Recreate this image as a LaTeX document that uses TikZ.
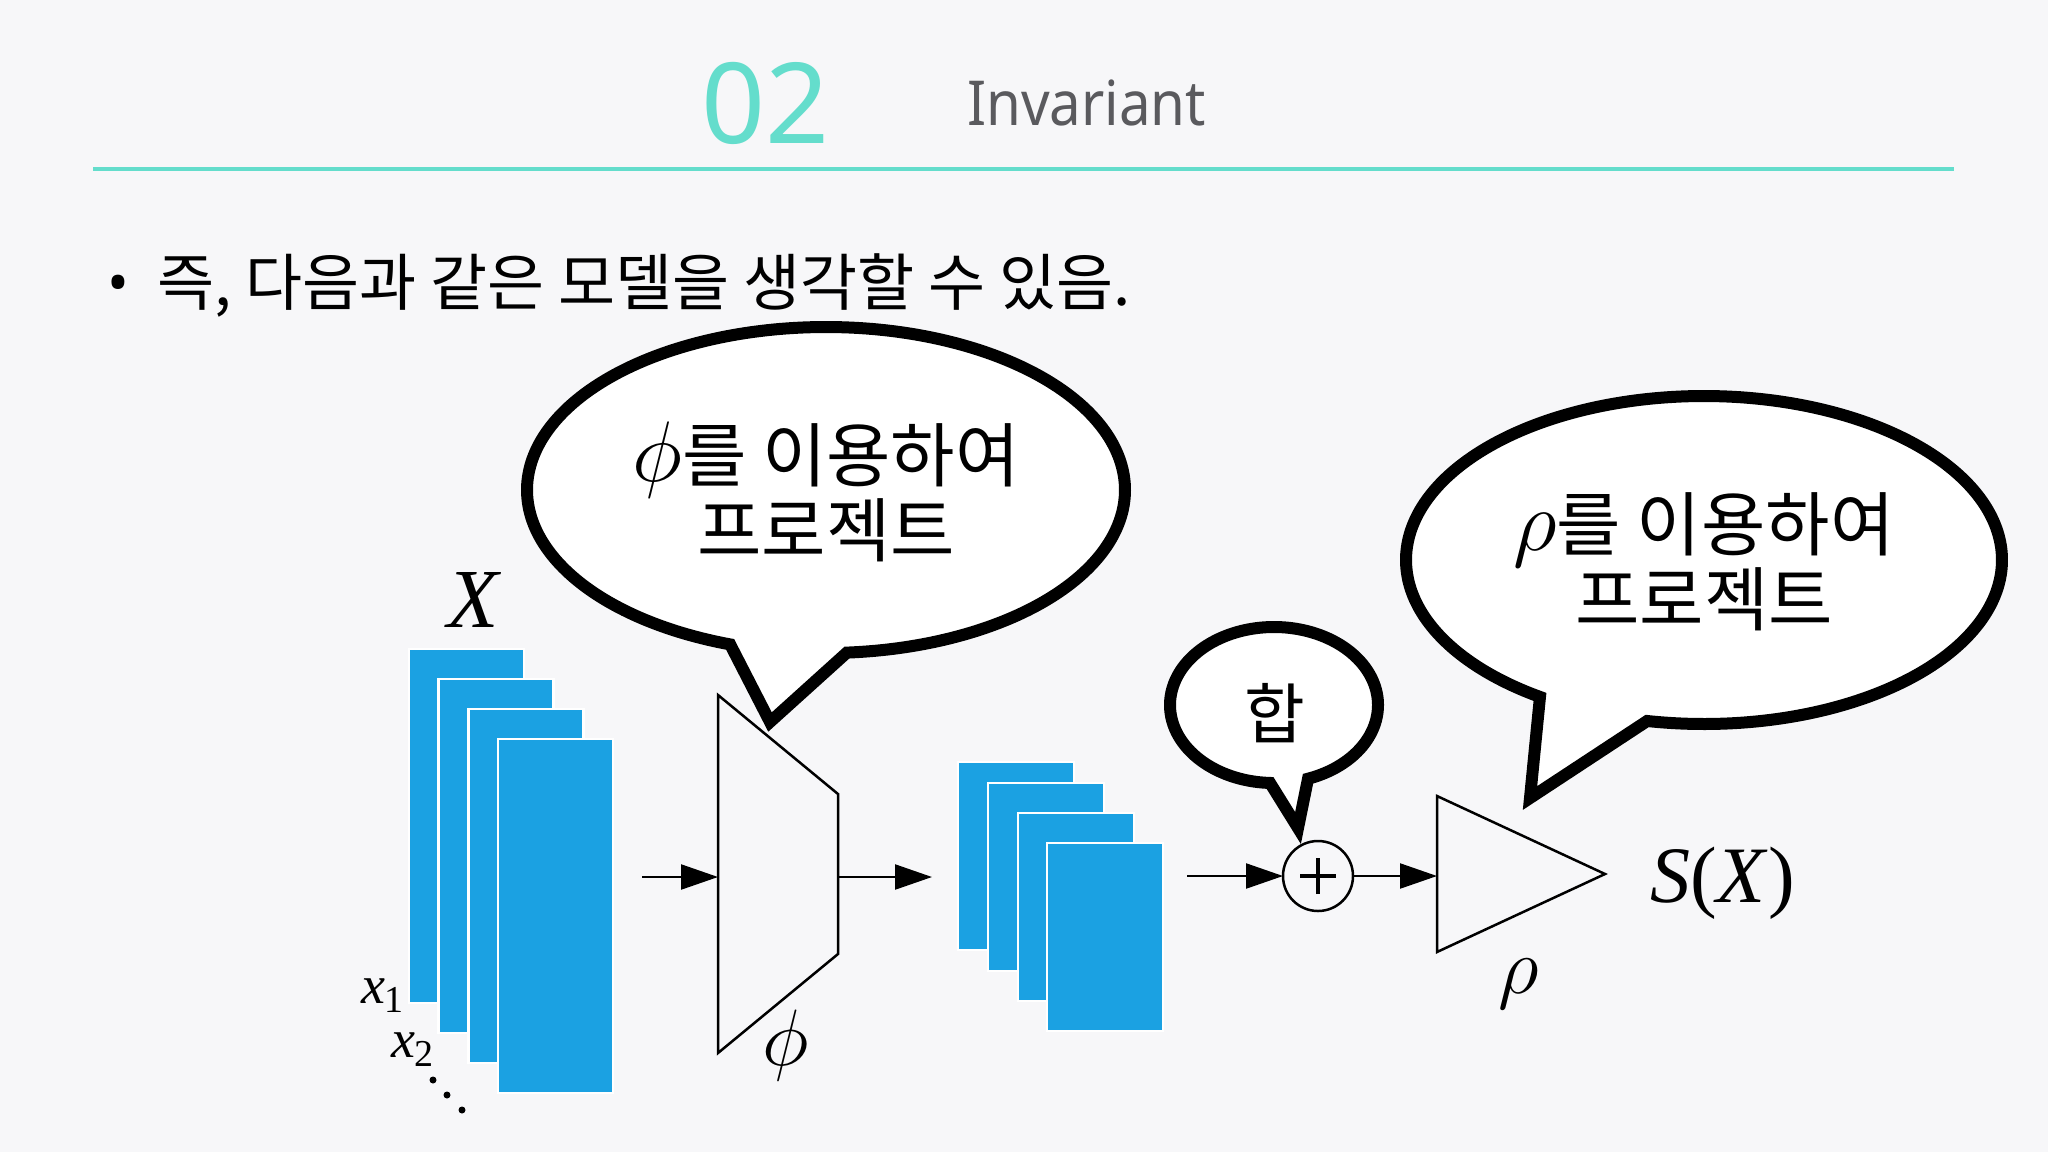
\RequirePackage{fix-cm}
\documentclass[tikz,border=0pt]{standalone}
\usepackage{fontspec}
\setmainfont{Noto Sans}
\newfontfamily\kr{Noto Sans CJK KR}
\newfontfamily\tms{Liberation Serif}
\newfontfamily\ttlfont[FakeStretch=0.91]{Noto Sans}
\usetikzlibrary{arrows.meta}
\definecolor{bgc}{HTML}{F7F7F9}
\definecolor{tealc}{HTML}{64DDCC}
\definecolor{txtgray}{HTML}{5A5A5E}
\definecolor{cblue}{HTML}{1BA1E2}
\newcommand\setfs[1]{\fontsize{#1}{#1}\selectfont}
\newcommand\bigmath[1]{{\setfs{86}$#1$}}
\begin{document}
\begin{tikzpicture}[x=1pt,y=-1pt,
  every node/.style={inner sep=0pt, outer sep=0pt},
  blk/.style={fill=cblue, draw=white, line width=2.5pt, anchor=north west},
  arr/.style={line width=2.3pt, -{Triangle[length=37pt,width=25pt]}},
  shp/.style={line width=2.5pt, line join=miter},
  bub/.style={draw=black, fill=white, line width=12pt, line join=miter},
  bubtxt/.style={font={\kr\setfs{70}}, anchor=base},
  mlbl/.style={font={\setfs{80}}, anchor=base}]
\useasboundingbox (0,0) rectangle (2048,1152);
\fill[bgc] (0,0) rectangle (2048,1152);

% header
\node[text=tealc, font={\setfs{112}}] (num) at (765.5,103) {02};
\node[text=txtgray, font={\ttlfont\setfs{62}}, anchor=base west] (ttl) at (967,125) {Invariant};
\coordinate (ruleL) at (93,169);
\coordinate (ruleR) at (1954,169);
\draw[tealc, line width=3.3pt] (ruleL) -- (ruleR);

% bullet line
\node[font={\setfs{58}}, anchor=base] (bul) at (118,303) {•};
\node[font={\kr\setfs{62}}, anchor=base west] (intro) at (157,305) {즉, 다음과 같은 모델을 생각할 수 있음.};

% input stack
\foreach \i in {0,...,3}
  \node[blk, minimum width=115pt, minimum height=354pt] (xs\i) at ({409+29.7*\i},{649+30*\i}) {};
\node[font={\tms\itshape\setfs{84}}, anchor=base] (Xl) at (473,627) {X};
\node[font={\tms\setfs{54}}, anchor=base west] (x1) at (361,1003) {\textit{x}\raisebox{-9pt}{\setfs{38}1}};
\node[font={\tms\setfs{54}}, anchor=base west] (x2) at (391,1057) {\textit{x}\raisebox{-9pt}{\setfs{38}2}};
\fill (433,1080) circle[radius=3.5pt];
\fill (447,1095) circle[radius=3.5pt];
\fill (462,1110) circle[radius=3.5pt];

% phi block
\draw[shp] (718,695) -- (838,794) -- (838,954) -- (718,1053) -- cycle;
\coordinate (trapL) at (718,877);
\coordinate (trapR) at (838,877);
\node[mlbl] (phil) at (786,1065) {$\phi$};

% middle stack
\node[blk, minimum width=116pt, minimum height=188pt] (ms0) at (958,762) {};
\node[blk, minimum width=116pt, minimum height=188pt] (ms1) at (988,783) {};
\node[blk, minimum width=116pt, minimum height=188pt] (ms2) at (1018,813) {};
\node[blk, minimum width=116pt, minimum height=188pt] (ms3) at (1047,843) {};

% sum
\node[draw, circle, line width=2.5pt, minimum size=70pt] (sum) at (1318,876) {};
\draw[line width=4pt] ([xshift=-18pt]sum.center) -- ([xshift=18pt]sum.center);
\draw[line width=4pt] ([yshift=-18pt]sum.center) -- ([yshift=18pt]sum.center);

% rho block
\draw[shp] (1437,796) -- (1605,874) -- (1437,952) -- cycle;
\coordinate (triL) at (1437,876);
\node[mlbl] (rhol) at (1519,993) {$\rho$};
\node[font={\tms\setfs{80}}, anchor=base west] (out) at (1650,902) {\textit{S}(\textit{X})};

% connectors
\coordinate (a1) at (642,877);
\coordinate (a2) at (932,877);
\coordinate (a3) at (1187,876);
\draw[arr] (a1) -- (trapL);
\draw[arr] (trapR) -- (a2);
\draw[arr] (a3) -- (sum.west);
\draw[arr] (sum.east) -- (triL);

% bubbles
\draw[bub] plot[domain=-251.3:86, samples=300, variable=\t] ({826+299*cos(\t)},{490+163*sin(\t)}) -- (770,722) -- cycle;
\draw[bub] plot[domain=-236.6:101, samples=300, variable=\t] ({1704+298*cos(\t)},{560+164*sin(\t)}) -- (1530,798) -- cycle;
\draw[bub] plot[domain=-267.8:70.9, samples=200, variable=\t] ({1274+104*cos(\t)},{705+78*sin(\t)}) -- (1298,828) -- cycle;

\node[bubtxt] (b1a) at (826,481) {\bigmath{\phi}를 이용하여};
\node[bubtxt] (b1b) at (826,556) {프로젝트};
\node[bubtxt] (b2a) at (1704,550) {\bigmath{\rho}를 이용하여};
\node[bubtxt] (b2b) at (1704,625) {프로젝트};
\node[font={\kr\setfs{66}}, anchor=base] (b3) at (1275,738) {합};
\end{tikzpicture}
\end{document}
